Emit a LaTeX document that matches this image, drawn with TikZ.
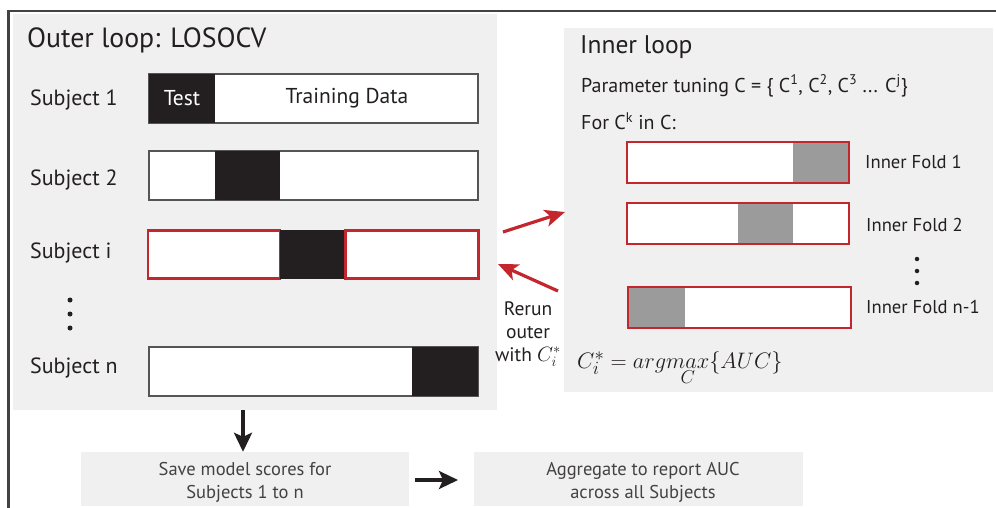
\documentclass[tikz,border=0pt]{standalone}
\usepackage{graphicx}
\usepackage{fontspec}
\setmainfont{PT Sans}
\usetikzlibrary{arrows.meta}
\definecolor{bgray}{HTML}{F0F0F0}
\definecolor{ink}{HTML}{231F20}
\definecolor{redc}{HTML}{C4262E}
\definecolor{midgray}{HTML}{9B9B9B}
\definecolor{edgegray}{HTML}{555555}
\tikzset{
  panel/.style={fill=bgray, draw=none, inner sep=0pt},
  bar/.style={draw=edgegray, line width=1.2pt, fill=white, inner sep=0pt, minimum height=49pt},
  blk/.style={fill=ink, draw=none, inner sep=0pt, minimum height=49pt},
  redbox/.style={draw=redc, line width=2.6pt, fill=white, inner sep=0pt},
  foldbox/.style={draw=redc, line width=2.6pt, inner sep=0pt, minimum height=41pt},
  graybk/.style={fill=midgray, draw=none, inner sep=0pt, minimum height=41pt},
  lbl/.style={text=ink, inner sep=0pt, anchor=west, font=\fontsize{22}{25}\selectfont},
  foldlbl/.style={text=ink, inner sep=0pt, anchor=west, font=\fontsize{18.6}{21}\selectfont},
  dotc/.style={fill=ink, draw=none, circle, inner sep=0pt, minimum size=5pt},
  redarrow/.style={draw=redc, line width=3.2pt, -{Stealth[length=20pt,width=17pt,inset=5pt]}},
  blkarrow/.style={draw=ink, line width=3.2pt, -{Stealth[length=19pt,width=18pt,inset=4pt]}},
  bottombox/.style={fill=bgray, draw=none, inner sep=0pt, minimum width=328pt, minimum height=54pt},
  bottomtxt/.style={inner sep=0pt, align=center, text=ink!85, font=\fontsize{18.5}{23}\selectfont}
}
\begin{document}
\begin{tikzpicture}[x=1pt,y=-1pt]
\useasboundingbox (0,0) rectangle (996,508);
% frame
\draw[line width=2.2pt, draw=ink!85] (8.5,508) -- (8.5,11) -- (996,11);
% panels
\node[panel, minimum width=484pt, minimum height=396pt] (outer) at (255,212) {};
\node[panel, minimum width=429pt, minimum height=364pt] (inner) at (778.5,210) {};
% outer title
\node[lbl, font=\fontsize{27.8}{30}\selectfont] (otitle) at (27,40) {Outer loop: LOSOCV};
% subject labels
\node[lbl] (l1) at (30,100) {Subject 1};
\node[lbl] (l2) at (30,180) {Subject 2};
\node[lbl] (li) at (30,253) {Subject i};
\node[lbl] (ln) at (30,368) {Subject n};
% subject 1
\node[bar, minimum width=329pt] (s1) at (313.5,98.5) {};
\node[blk, minimum width=66pt, text=white, font=\fontsize{21.5}{24}\selectfont] (s1t) at (182,98.5) {Test};
\node[text=ink, inner sep=0pt, font=\fontsize{21.5}{24}\selectfont] (s1d) at (347,98.5) {Training Data};
\draw[draw=edgegray, line width=1.2pt] (s1.north west) rectangle (s1.south east);
% subject 2
\node[bar, minimum width=329pt] (s2) at (313.5,175.5) {};
\node[blk, minimum width=65pt] (s2t) at (247.5,175.5) {};
% subject i
\node[redbox, minimum width=132pt, minimum height=48pt] (sia) at (214,254.5) {};
\node[blk, minimum width=65pt] (sit) at (312.5,254.5) {};
\node[redbox, minimum width=133pt, minimum height=48pt] (sib) at (412,254.5) {};
% dots
\node[dotc] (d1) at (70,300) {};
\node[dotc] (d2) at (70,314) {};
\node[dotc] (d3) at (70,328) {};
% subject n
\node[bar, minimum width=329pt] (sn) at (313.5,371.5) {};
\node[blk, minimum width=66pt] (snt) at (445,371.5) {};
% inner loop texts
\node[lbl, font=\fontsize{25.5}{28}\selectfont] (ititle) at (580,47) {Inner loop};
\node[foldlbl, font=\fontsize{20}{22}\selectfont] (ptune) at (581,86) {Parameter tuning C = \{ C\textsuperscript{1}, C\textsuperscript{2}, C\textsuperscript{3} ... C\textsuperscript{j}\}};
\node[foldlbl, font=\fontsize{20}{22}\selectfont] (fork) at (581,121) {For C\textsuperscript{k} in C:};
% folds
\node[fill=white, inner sep=0pt, minimum width=222pt, minimum height=41pt] (f1) at (738,162.5) {};
\node[graybk, minimum width=56pt] (f1g) at (821,162.5) {};
\node[foldbox, minimum width=222pt] (f1b) at (738,162.5) {};
\node[fill=white, inner sep=0pt, minimum width=222pt, minimum height=41pt] (f2) at (738,223.5) {};
\node[graybk, minimum width=55pt] (f2g) at (765.5,223.5) {};
\node[foldbox, minimum width=222pt] (f2b) at (738,223.5) {};
\node[fill=white, inner sep=0pt, minimum width=223pt, minimum height=41pt] (f3) at (739.5,307.5) {};
\node[graybk, minimum width=57pt] (f3g) at (656.5,307.5) {};
\node[foldbox, minimum width=223pt] (f3b) at (739.5,307.5) {};
\node[foldlbl] (fl1) at (865,162) {Inner Fold 1};
\node[foldlbl] (fl2) at (866,225) {Inner Fold 2};
\node[foldlbl] (fl3) at (866,307) {Inner Fold n-1};
\node[dotc, minimum size=4.5pt] (e1) at (917,259) {};
\node[dotc, minimum size=4.5pt] (e2) at (917,271) {};
\node[dotc, minimum size=4.5pt] (e3) at (917,283) {};
% formula
\node[text=ink, inner sep=0pt, anchor=west, font=\fontsize{24.88}{28}\selectfont] (form) at (577,368) {\scalebox{0.9}{$C_i^* = arg\!\mathop{max}\limits_{\lower1.5pt\hbox{$\scriptstyle C$}}\{AUC\}$}};
% rerun text
\node[text=ink, inner sep=0pt, align=center, font=\fontsize{19.5}{23}\selectfont] (rerun) at (528,334) {Rerun\\outer\\with $C_i^*$};
% red arrows
\coordinate (r1s) at (503,232);
\coordinate (r1e) at (565,212);
\coordinate (r2s) at (558,291);
\coordinate (r2e) at (498,264);
\draw[redarrow] (r1s) -- (r1e);
\draw[redarrow] (r2s) -- (r2e);
% bottom
\node[bottombox] (save) at (245,479) {};
\node[bottomtxt] (savet) at (245,482) {Save model scores for\\Subjects 1 to n};
\node[bottombox, minimum width=329pt] (agg) at (638.5,479) {};
\node[bottomtxt] (aggt) at (643,482) {Aggregate to report AUC\\across all Subjects};
\coordinate (da) at (243,410);
\draw[blkarrow] (da) -- (save.north -| da);
\coordinate (ra) at (415,480);
\coordinate (rb) at (458,480);
\draw[blkarrow] (ra) -- (rb);
\end{tikzpicture}
\end{document}
